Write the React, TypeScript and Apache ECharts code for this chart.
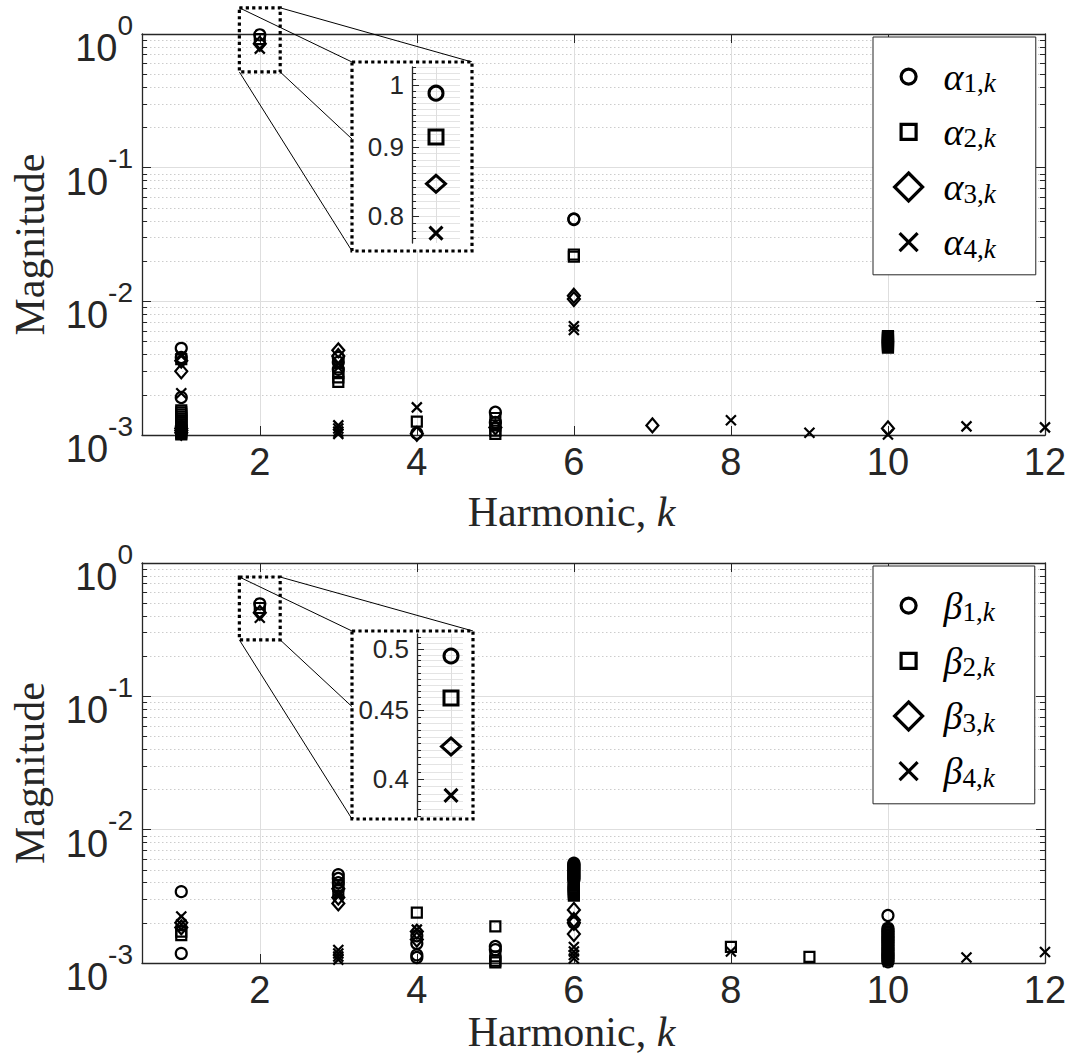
import { useEffect, useRef } from 'react';
import * as echarts from 'echarts';

// ---- axis ticks -------------------------------------------------------------
const harmonicTicks = [2, 4, 6, 8, 10, 12];
const decadeTicks = [0.001, 0.01, 0.1, 1];
const minorDecadeTicks = [2, 3, 4, 5, 6, 7, 8, 9].flatMap((m) => [m * 0.001, m * 0.01, m * 0.1]);
const alphaInsetTicks = [0.8, 0.9, 1];
const betaInsetTicks = [0.4, 0.45, 0.5];

function steps(from: number, to: number, step: number): number[] {
  const out: number[] = [];
  for (let v = from; v <= to + 1e-9; v += step) out.push(+v.toFixed(4));
  return out;
}
const alphaInsetMinor = steps(0.77, 1.03, 0.01);
const betaInsetMinor = steps(0.375, 0.51, 0.005);

// ---- series names --------------------------------------------------------------
const alphaNames = ['α1,k', 'α2,k', 'α3,k', 'α4,k'];
const betaNames = ['β1,k', 'β2,k', 'β3,k', 'β4,k'];

// ---- harmonic magnitudes: [harmonic k, magnitude] ----------------------------
const alpha1 = [
  [1, 0.00445], [1, 0.0038], [1, 0.00191], [1, 0.00115], [2, 0.986],
  [3, 0.0038], [3, 0.0035], [3, 0.0031], [4, 0.00103], [5, 0.00148], [5, 0.00124],
  [6, 0.0414], [6, 0.0409],
];
const alpha2 = [
  [1, 0.0037], [1, 0.00153], [1, 0.00148], [1, 0.00143], [1, 0.00138], [1, 0.00133],
  [1, 0.00128], [1, 0.00124], [1, 0.0012], [1, 0.00116], [1, 0.00112], [1, 0.00109],
  [1, 0.00106], [1, 0.00103], [1, 0.00101], [2, 0.915], [3, 0.0029], [3, 0.0027],
  [3, 0.0025], [4, 0.00126], [5, 0.00134], [5, 0.00118], [5, 0.00108], [5, 0.00102],
  [6, 0.0224], [6, 0.0216], [10, 0.0055], [10, 0.0054], [10, 0.0053], [10, 0.0052],
  [10, 0.0051], [10, 0.005], [10, 0.0049], [10, 0.0048], [10, 0.0047], [10, 0.0046],
  [10, 0.0045],
];
const alpha3 = [
  [1, 0.0036], [1, 0.003], [1, 0.00112], [1, 0.00108], [1, 0.00104], [2, 0.845],
  [3, 0.0043], [3, 0.0039], [4, 0.00102], [5, 0.00114], [6, 0.011], [6, 0.0104],
  [7, 0.00118], [10, 0.00112],
];
const alpha4 = [
  [1, 0.0039], [1, 0.00205], [1, 0.00113], [1, 0.0011], [1, 0.00107], [1, 0.00103],
  [2, 0.777], [3, 0.0034], [3, 0.0032], [3, 0.00118], [3, 0.00112], [3, 0.00106],
  [3, 0.00102], [4, 0.00161], [6, 0.0065], [6, 0.0061], [8, 0.00129], [9, 0.00104],
  [10, 0.00101], [11, 0.00116], [12, 0.00114],
];

const beta1 = [
  [1, 0.00343], [1, 0.00118], [2, 0.494], [3, 0.0046], [3, 0.0043], [3, 0.004],
  [4, 0.0016], [4, 0.0014], [4, 0.00115], [4, 0.0011], [5, 0.00133], [5, 0.00126],
  [6, 0.0056], [6, 0.0055], [6, 0.0054], [6, 0.0053], [6, 0.0052], [6, 0.0051],
  [6, 0.005], [6, 0.0049], [6, 0.0048], [6, 0.0047], [6, 0.0046], [6, 0.0045],
  [6, 0.0044], [6, 0.0043], [6, 0.0042], [6, 0.002],
  [10, 0.00227], [10, 0.00182], [10, 0.00177], [10, 0.00172], [10, 0.00168],
  [10, 0.00163], [10, 0.00159], [10, 0.00155], [10, 0.00151], [10, 0.00147],
  [10, 0.00143], [10, 0.00139], [10, 0.00135], [10, 0.00131], [10, 0.00127],
  [10, 0.00124], [10, 0.0012], [10, 0.00117], [10, 0.00114], [10, 0.00111],
  [10, 0.00108], [10, 0.00105], [10, 0.00102],
];
const beta2 = [
  [1, 0.00172], [1, 0.00162], [2, 0.4597], [3, 0.0038], [3, 0.0035], [4, 0.00239],
  [5, 0.00188], [5, 0.00112], [5, 0.00104], [5, 0.00101], [6, 0.004], [6, 0.0039],
  [6, 0.0038], [6, 0.0037], [6, 0.0036], [6, 0.0035], [6, 0.0034], [6, 0.0033],
  [6, 0.0032], [8, 0.00132], [9, 0.00111], [10, 0.0014], [10, 0.0012], [10, 0.00108],
];
const beta3 = [
  [1, 0.002], [1, 0.00185], [2, 0.423], [3, 0.0036], [3, 0.0031], [3, 0.0028],
  [4, 0.00172], [4, 0.0015], [6, 0.0025], [6, 0.0021], [6, 0.002], [6, 0.00165],
];
const beta4 = [
  [1, 0.00223], [1, 0.00195], [2, 0.389], [3, 0.0033], [3, 0.0032], [3, 0.00125],
  [3, 0.00118], [3, 0.00112], [3, 0.00106], [4, 0.00178], [6, 0.00132], [6, 0.00122],
  [6, 0.00115], [6, 0.00108], [8, 0.00122], [10, 0.00102], [11, 0.0011], [12, 0.00121],
];

// ---- zoomed regions (data space) ----------------------------------------------
const alphaZoomK = [1.74, 2.26];
const alphaZoomMag = [0.52, 1.57];
const betaZoomK = [1.74, 2.26];
const betaZoomMag = [0.265, 0.785];
const alphaInsetK = [1.9, 2.1];
const alphaInsetMag = [0.764, 1.031];
const betaInsetK = [1.83, 2.06];
const betaInsetMag = [0.3748, 0.513];

// ---- styling ------------------------------------------------------------------
const FONT_SANS = '"Liberation Sans", Arial, Helvetica, sans-serif';
const FONT_SERIF = '"Liberation Serif", "Times New Roman", serif';
const INK = '#262626';
const GRID_MAJOR = '#dedede';
const GRID_MINOR = '#cccccc';
const X_PATH = 'path://M0,0L10,10M0,10L10,0';

const markers = [
  { symbol: 'circle', size: 11, inset: 14 },
  { symbol: 'rect', size: 10, inset: 14 },
  { symbol: 'diamond', size: [12, 14], inset: [19, 17] },
  { symbol: X_PATH, size: 10, inset: 13 },
];
const legendIcons = [
  'path://M0,0M45,40M22.5,20A7.5,7.5,0,1,1,7.5,20A7.5,7.5,0,1,1,22.5,20Z',
  'path://M0,0M45,40M7.5,12.5L22.5,12.5L22.5,27.5L7.5,27.5Z',
  'path://M0,0M45,40M15,6L29,20L15,34L1,20Z',
  'path://M0,0M45,40M6,11L24,29M24,11L6,29',
];

const PLOT_LEFT = 142;
const PLOT_RIGHT = 28;
const panels = [
  {
    top: 34, height: 401, legendTop: 37, nameGap: 56,
    names: alphaNames, data: [alpha1, alpha2, alpha3, alpha4],
    inset: { left: 412, top: 67, width: 48, height: 176 },
    insetK: alphaInsetK, insetMag: alphaInsetMag,
    insetTicks: alphaInsetTicks, insetMinor: alphaInsetMinor,
    frame: { x: 352, y: 62, width: 120, height: 189 },
    zoomK: alphaZoomK, zoomMag: alphaZoomMag,
  },
  {
    top: 563, height: 400, legendTop: 566, nameGap: 48,
    names: betaNames, data: [beta1, beta2, beta3, beta4],
    inset: { left: 417, top: 634, width: 46, height: 183 },
    insetK: betaInsetK, insetMag: betaInsetMag,
    insetTicks: betaInsetTicks, insetMinor: betaInsetMinor,
    frame: { x: 352, y: 631, width: 121, height: 188 },
    zoomK: betaZoomK, zoomMag: betaZoomMag,
  },
];

const line = (show = true) => ({ show, onZero: false, lineStyle: { color: INK, width: 1.3 } });
const ticks = (values: number[], length: number, show = true) => ({
  show, inside: true, length, customValues: values, lineStyle: { color: INK, width: 1 },
});

function buildOption() {
  const grid: any[] = [];
  const xAxis: any[] = [];
  const yAxis: any[] = [];
  const series: any[] = [];
  const legend: any[] = [];

  panels.forEach((p, pi) => {
    const g = pi;
    grid.push({ left: PLOT_LEFT, right: PLOT_RIGHT, top: p.top, height: p.height, outerBoundsMode: 'none' });
    const xBottom = xAxis.length;
    xAxis.push({
      gridIndex: g, type: 'value', min: 0.5, max: 12, position: 'bottom',
      axisLine: line(), axisTick: ticks(harmonicTicks, 9),
      axisLabel: { customValues: harmonicTicks, fontSize: 38, fontFamily: FONT_SANS, color: INK, margin: 8 },
      splitLine: { show: true, lineStyle: { color: GRID_MAJOR, width: 1 } },
      name: '{r|Harmonic, }{i|k}', nameLocation: 'middle', nameGap: p.nameGap,
      nameTextStyle: {
        padding: [0, 44, 0, 0],
        rich: {
          r: { fontFamily: FONT_SERIF, fontSize: 42, lineHeight: 42, color: INK },
          i: { fontFamily: FONT_SERIF, fontSize: 42, lineHeight: 42, fontStyle: 'italic', color: INK },
        },
      },
    });
    xAxis.push({
      gridIndex: g, type: 'value', min: 0.5, max: 12, position: 'top',
      axisLine: line(), axisTick: ticks(harmonicTicks, 9),
      axisLabel: { show: false, customValues: harmonicTicks }, splitLine: { show: false },
    });
    const yMain = yAxis.length;
    const logBase = { gridIndex: g, type: 'log', logBase: 10, min: 0.001, max: 1 };
    yAxis.push({
      ...logBase, position: 'left',
      axisLine: line(), axisTick: ticks(decadeTicks, 9),
      axisLabel: {
        customValues: decadeTicks, margin: 9, padding: [10, 0, 0, 0],
        formatter: (v: number) => `{b|10}{e|${Math.round(Math.log10(v))}}`,
        rich: {
          b: { fontFamily: FONT_SANS, fontSize: 38, lineHeight: 56, verticalAlign: 'bottom', color: INK },
          e: { fontFamily: FONT_SANS, fontSize: 28, lineHeight: 28, verticalAlign: 'top', color: INK },
        },
      },
      splitLine: { show: true, lineStyle: { color: GRID_MAJOR, width: 1 } },
      name: 'Magnitude', nameLocation: 'middle', nameGap: 91, nameRotate: 90,
      nameTextStyle: { fontFamily: FONT_SERIF, fontSize: 42, color: INK, padding: [0, 20, 0, 0] },
    });
    yAxis.push({
      ...logBase, position: 'left',
      axisLine: line(false), axisTick: ticks(minorDecadeTicks, 5),
      axisLabel: { show: false, customValues: minorDecadeTicks },
      splitLine: { show: true, lineStyle: { color: GRID_MINOR, width: 1, type: [1.5, 2.5] } },
    });
    yAxis.push({
      ...logBase, position: 'right',
      axisLine: line(), axisTick: ticks(decadeTicks, 9),
      axisLabel: { show: false, customValues: decadeTicks }, splitLine: { show: false },
    });
    yAxis.push({
      ...logBase, position: 'right',
      axisLine: line(false), axisTick: ticks(minorDecadeTicks, 5),
      axisLabel: { show: false, customValues: minorDecadeTicks }, splitLine: { show: false },
    });

    p.names.forEach((name, i) => {
      series.push({
        type: 'scatter', name, data: p.data[i], xAxisIndex: xBottom, yAxisIndex: yMain,
        symbol: markers[i].symbol, symbolSize: markers[i].size,
        itemStyle: { color: 'transparent', borderColor: '#000', borderWidth: 2.2, opacity: 1 },
        emphasis: { disabled: true }, silent: true, z: 3,
      });
    });

    legend.push({
      data: p.names.map((name, i) => ({ name, icon: legendIcons[i] })),
      orient: 'vertical', left: 873, top: p.legendTop,
      padding: [18, 40, 11, 19], itemWidth: 45, itemHeight: 40, itemGap: 12,
      borderColor: INK, borderWidth: 1, backgroundColor: '#fff', borderRadius: 0,
      selectedMode: false,
      itemStyle: { color: 'transparent', borderColor: '#000', borderWidth: 3.2 },
      formatter: (name: string) => `{g|${name.charAt(0)}}{s|${name.slice(1, -1)}}{k|${name.slice(-1)}}`,
      textStyle: {
        color: '#000',
        rich: {
          g: { fontFamily: FONT_SERIF, fontStyle: 'italic', fontSize: 38, lineHeight: 40, verticalAlign: 'middle', color: '#000' },
          s: { fontFamily: FONT_SERIF, fontStyle: 'normal', fontSize: 27, lineHeight: 20, verticalAlign: 'bottom', color: '#000' },
          k: { fontFamily: FONT_SERIF, fontStyle: 'italic', fontSize: 27, lineHeight: 20, verticalAlign: 'bottom', color: '#000' },
        },
      },
    });
  });

  // magnified views of the k = 2 cluster
  panels.forEach((p) => {
    const g = grid.length;
    grid.push({ left: p.inset.left, top: p.inset.top, width: p.inset.width, height: p.inset.height, outerBoundsMode: 'none' });
    const xi = xAxis.length;
    xAxis.push({
      gridIndex: g, type: 'value', min: p.insetK[0], max: p.insetK[1], z: 20,
      axisLine: { show: false }, axisTick: { show: false, customValues: [2] },
      axisLabel: { show: false, customValues: [2] },
      splitLine: { show: true, lineStyle: { color: GRID_MAJOR, width: 1 } },
    });
    const yi = yAxis.length;
    const insetLog = { gridIndex: g, type: 'log', logBase: 10, min: p.insetMag[0], max: p.insetMag[1], z: 20 };
    yAxis.push({
      ...insetLog, position: 'left',
      axisLine: line(), axisTick: ticks(p.insetTicks, 7),
      axisLabel: {
        customValues: p.insetTicks, margin: 8, fontSize: 26, fontFamily: FONT_SANS, color: INK,
        formatter: (v: number) => String(+v.toFixed(3)),
      },
      splitLine: { show: true, lineStyle: { color: GRID_MAJOR, width: 1 } },
    });
    yAxis.push({
      ...insetLog, position: 'left',
      axisLine: line(false), axisTick: ticks(p.insetMinor, 4),
      axisLabel: { show: false, customValues: p.insetMinor },
      splitLine: { show: true, lineStyle: { color: '#e4e4e4', width: 1 } },
    });
    p.names.forEach((name, i) => {
      series.push({
        type: 'scatter', name, data: p.data[i], xAxisIndex: xi, yAxisIndex: yi,
        symbol: markers[i].symbol, symbolSize: markers[i].inset, clip: true,
        itemStyle: { color: 'transparent', borderColor: '#000', borderWidth: 3, opacity: 1 },
        emphasis: { disabled: true }, silent: true, z: 21,
      });
    });
  });

  return {
    animation: false,
    backgroundColor: '#fff',
    textStyle: { fontFamily: FONT_SANS },
    grid, xAxis, yAxis, series, legend,
  };
}

// dotted zoom rectangle, its connectors and the white inset frame
function zoomGraphics(chart: echarts.ECharts) {
  const elements: any[] = [];
  const dotted = { stroke: '#000', lineWidth: 3.2, lineDash: [3.2, 3.2] };
  panels.forEach((p, pi) => {
    const finder = { xAxisIndex: pi * 2, yAxisIndex: pi * 4 };
    const tl = chart.convertToPixel(finder, [p.zoomK[0], p.zoomMag[1]]) as number[];
    const br = chart.convertToPixel(finder, [p.zoomK[1], p.zoomMag[0]]) as number[];
    const f = p.frame;
    const small = [
      [tl[0], tl[1]], [br[0], tl[1]], [tl[0], br[1]], [br[0], br[1]],
    ];
    const big = [
      [f.x, f.y], [f.x + f.width, f.y], [f.x, f.y + f.height], [f.x + f.width, f.y + f.height],
    ];
    small.forEach((s, i) => {
      elements.push({
        type: 'line', silent: true, z: 5,
        shape: { x1: s[0], y1: s[1], x2: big[i][0], y2: big[i][1] },
        style: { stroke: '#000', lineWidth: 1 },
      });
    });
    elements.push({
      type: 'rect', silent: true, z: 6,
      shape: { x: tl[0], y: tl[1], width: br[0] - tl[0], height: br[1] - tl[1] },
      style: { ...dotted, fill: 'transparent' },
    });
    elements.push({
      type: 'rect', silent: true, z: 10,
      shape: { x: f.x, y: f.y, width: f.width, height: f.height },
      style: { ...dotted, fill: '#fff' },
    });
  });
  return { elements };
}

export default function App() {
  const ref = useRef<HTMLDivElement>(null);
  useEffect(() => {
    const el = ref.current;
    if (!el) return;
    const chart = echarts.init(el, null, { renderer: 'svg' });
    chart.setOption(buildOption());
    chart.setOption({ graphic: zoomGraphics(chart) });
    return () => chart.dispose();
  }, []);
  return (
    <div
      ref={ref}
      style={{ position: 'fixed', left: 0, top: 0, width: 1073, height: 1055, background: '#fff' }}
    />
  );
}
